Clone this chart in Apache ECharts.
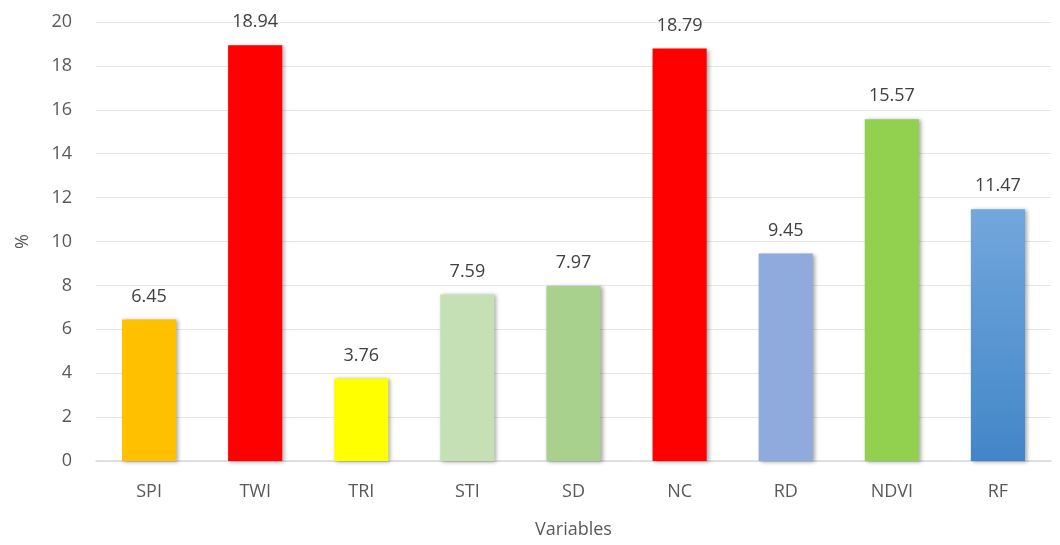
<!DOCTYPE html>
<html>
<head>
<meta charset="utf-8">
<script src="https://cdn.jsdelivr.net/npm/echarts@6/dist/echarts.min.js"></script>
<style>
html,body{margin:0;padding:0;background:#fff;}
#chart{width:1060px;height:545px;}
</style>
</head>
<body>
<div id="chart"></div>
<script>
const categories = ['SPI','TWI','TRI','STI','SD','NC','RD','NDVI','RF'];
const values = [6.45, 18.94, 3.76, 7.59, 7.97, 18.79, 9.45, 15.57, 11.47];
const barColors = ['#FFC000','#FF0000','#FFFF00','#C5E0B4','#A9D18E','#FF0000','#8FAADC','#92D050',
  {type:'linear',x:0,y:0,x2:0,y2:1,colorStops:[{offset:0,color:'#72A7DC'},{offset:1,color:'#4286C8'}]}];
const yTicks = {min:0, max:20, interval:2};

const chart = echarts.init(document.getElementById('chart'));
const font = 'Open Sans, Noto Sans, sans-serif';
chart.setOption({
  animation:false,
  grid:{left:96, right:9, top:22, bottom:84},
  xAxis:{
    type:'category', data:categories,
    name:'Variables', nameLocation:'middle', nameGap:60,
    nameTextStyle:{color:'#595959', fontSize:18, fontFamily:font},
    axisLine:{lineStyle:{color:'#D9D9D9', width:1.5}},
    axisTick:{show:false},
    axisLabel:{color:'#595959', fontSize:18, fontFamily:font, margin:22}
  },
  yAxis:{
    type:'value', min:yTicks.min, max:yTicks.max, interval:yTicks.interval,
    name:'%', nameLocation:'middle', nameGap:64,
    nameTextStyle:{color:'#595959', fontSize:18, fontFamily:font},
    axisLine:{show:false}, axisTick:{show:false},
    axisLabel:{color:'#595959', fontSize:18, fontFamily:font, margin:24},
    splitLine:{lineStyle:{color:'#E6E6E6', width:1}}
  },
  series:[{
    type:'bar',
    barWidth:'51%',
    data:values.map((v,i)=>({value:v, itemStyle:{color:barColors[i]}})),
    itemStyle:{shadowBlur:4, shadowColor:'rgba(0,0,0,0.35)', shadowOffsetX:2, shadowOffsetY:1},
    label:{show:true, position:'top', distance:14, color:'#404040', fontSize:18, fontFamily:font,
      formatter:p=>p.value.toFixed(2)}
  }]
});
</script>
</body>
</html>
